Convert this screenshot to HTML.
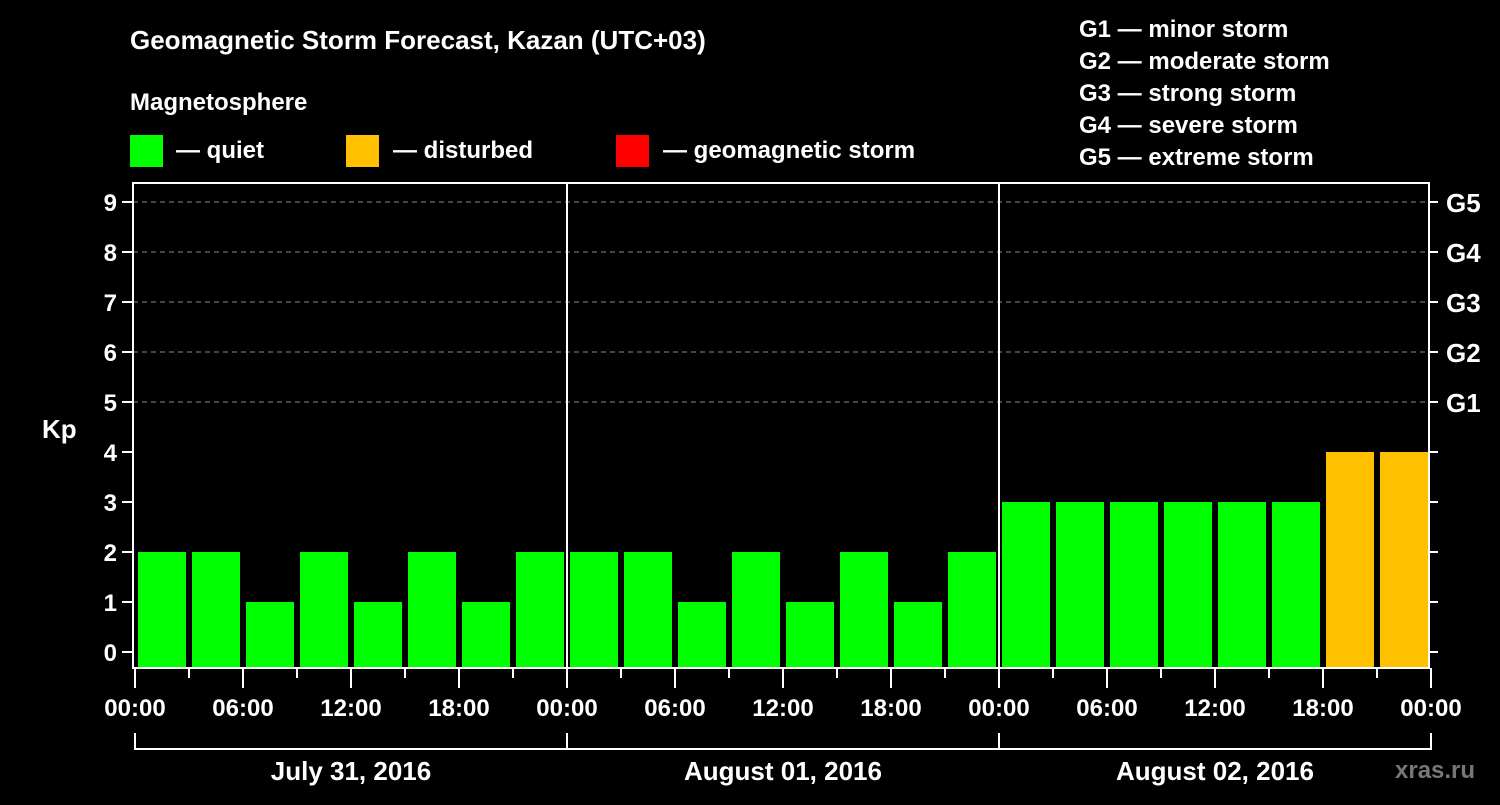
<!DOCTYPE html>
<html><head><meta charset="utf-8"><style>
body{margin:0;background:#000;width:1500px;height:800px;overflow:hidden}
svg text{font-family:"Liberation Sans",sans-serif;font-weight:bold;fill:#fff}
</style></head><body>
<svg id="chart" width="1500" height="800">
<text x="130" y="49" font-size="26">Geomagnetic Storm Forecast, Kazan (UTC+03)</text>
<text x="130" y="110" font-size="24">Magnetosphere</text>
<g><rect x="130" y="135" width="33" height="32" fill="#00ff00"/><text x="176" y="158" font-size="24">— quiet</text></g>
<g><rect x="346" y="135" width="33" height="32" fill="#ffc000"/><text x="393" y="158" font-size="24">— disturbed</text></g>
<g><rect x="616" y="135" width="33" height="32" fill="#ff0000"/><text x="663" y="158" font-size="24">— geomagnetic storm</text></g>
<g font-size="24">
<text x="1079" y="37">G1 — minor storm</text>
<text x="1079" y="69">G2 — moderate storm</text>
<text x="1079" y="101">G3 — strong storm</text>
<text x="1079" y="133">G4 — severe storm</text>
<text x="1079" y="165">G5 — extreme storm</text>
</g>
<text x="42" y="438" font-size="26">Kp</text>
<text x="1395" y="778" font-size="24" fill="#888" style="fill:#777">xras.ru</text>
<g id="plot"></g>
</svg>
<script>
const kpValues=[2,2,1,2,1,2,1,2, 2,2,1,2,1,2,1,2, 3,3,3,3,3,3,4,4];
const timeLabels=["00:00","06:00","12:00","18:00"];
const dayLabels=["July 31, 2016","August 01, 2016","August 02, 2016"];
const yTicks=[0,1,2,3,4,5,6,7,8,9];
const gLabels=["G1","G2","G3","G4","G5"];

const NS="http://www.w3.org/2000/svg";
const g=document.getElementById('plot');
const X0=133,STEP=54,Y0=652,UNIT=50,TOP=183,BOT=668,XR=X0+STEP*kpValues.length;
const xs=i=>X0+i*STEP;
const ys=v=>Y0-v*UNIT;
function mk(tag,a){const e=document.createElementNS(NS,tag);for(const k in a)e.setAttribute(k,a[k]);g.appendChild(e);return e;}
function col(v){return v>=5?'#ff0000':v>=4?'#ffc000':'#00ff00';}
// gridlines
yTicks.forEach(v=>{
 if(v>=5){const l=mk('line',{x1:X0,x2:XR,y1:ys(v),y2:ys(v),stroke:'#888','stroke-dasharray':'5,4','stroke-width':1});
 
 }
 const t=mk('line',{x1:X0-11,x2:X0,y1:ys(v),y2:ys(v),stroke:'#fff','stroke-width':2});
 
 
 const t2=mk('line',{x1:XR,x2:XR+9,y1:ys(v),y2:ys(v),stroke:'#fff','stroke-width':2});
 
 
 const tx=mk('text',{x:X0-16,y:ys(v)+9,'font-size':24,'text-anchor':'end'});tx.textContent=v;
 
 
});
gLabels.forEach((s,i)=>{const tx=mk('text',{x:XR+17,y:ys(5+i)+10,'font-size':26});tx.textContent=s;
 
 });
// bars
kpValues.forEach((v,i)=>{const r=mk('rect',{x:xs(i)+5,y:ys(v),width:48,height:BOT-ys(v),fill:col(v)});
 
 });
// frame
const fr=mk('rect',{x:X0,y:TOP,width:XR-X0,height:BOT-TOP,fill:'none',stroke:'#fff','stroke-width':2});


// x ticks
for(let i=0;i<=kpValues.length;i++){
 const major=i%2==0;
 const t=mk('line',{x1:xs(i)+2,x2:xs(i)+2,y1:BOT,y2:BOT+(major?20:10),stroke:'#fff','stroke-width':2});
 
 
 if(major){const tx=mk('text',{x:xs(i)+2,y:BOT+48,'font-size':24,'text-anchor':'middle'});tx.textContent=timeLabels[(i/2)%4];
 
 }
}
// day separators and brackets
dayLabels.forEach((d,k)=>{
 const a=xs(k*8)+2,b=xs(k*8+8)+2;
 if(k>0){const l=mk('line',{x1:a,x2:a,y1:TOP,y2:BOT,stroke:'#fff','stroke-width':2});
 
 }
 const p=mk('path',{d:`M${a},733V749H${b}V733`,stroke:'#fff','stroke-width':2,fill:'none'});
 
 
 const tx=mk('text',{x:(a+b)/2,y:780,'font-size':26,'text-anchor':'middle'});tx.textContent=d;
 
 
});
</script>
</body></html>
